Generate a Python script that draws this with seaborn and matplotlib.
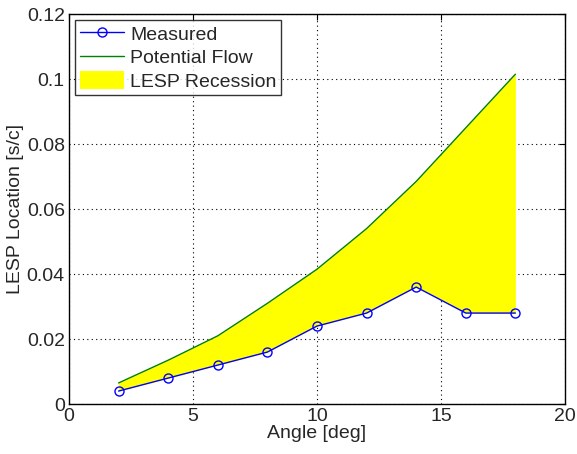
import matplotlib
matplotlib.use("Agg")
import matplotlib.pyplot as plt
import seaborn as sns
import pandas as pd

# data
angle = [2, 4, 6, 8, 10, 12, 14, 16, 18]
measured = [0.004, 0.008, 0.012, 0.016, 0.024, 0.028, 0.036, 0.028, 0.028]
potential = [0.0065, 0.0135, 0.021, 0.031, 0.0415, 0.054, 0.0685, 0.085, 0.1015]

df = pd.DataFrame({"angle": angle, "measured": measured, "potential": potential})

sns.set_style("white")
plt.rcParams['font.family'] = ['Liberation Sans', 'DejaVu Sans']
plt.rcParams['xtick.direction'] = 'in'
plt.rcParams['ytick.direction'] = 'in'

fig = plt.figure(figsize=(5.77, 4.54), dpi=100)
ax = fig.add_axes([0.1196, 0.110, 0.8596, 0.859])

# yellow band between measured and potential flow
ax.fill_between(df["angle"], df["measured"], df["potential"],
                color="#ffff00", linewidth=0, label="LESP Recession", zorder=1)

sns.lineplot(data=df, x="angle", y="measured", ax=ax, color="#0000ff",
             marker="o", markersize=6.5, markerfacecolor="none",
             markeredgecolor="#0000ff", markeredgewidth=1.0,
             linewidth=1.0, label="Measured", zorder=3)
sns.lineplot(data=df, x="angle", y="potential", ax=ax, color="#008000",
             linewidth=1.0, label="Potential Flow", zorder=2)

ax.set_xlim(0, 20)
ax.set_ylim(0, 0.12)
ax.set_xticks([0, 5, 10, 15, 20])
ax.set_yticks([0, 0.02, 0.04, 0.06, 0.08, 0.1, 0.12])
ax.set_yticklabels(["0", "0.02", "0.04", "0.06", "0.08", "0.1", "0.12"])
ax.tick_params(labelsize=14, length=4, width=0.8, color="black",
               top=True, right=True, pad=3)
ax.set_xlabel("Angle [deg]", fontsize=14, labelpad=0)
ax.set_ylabel("LESP Location [s/c]", fontsize=14, labelpad=2)

ax.grid(True, linestyle=(0, (1, 3)), color="black", linewidth=0.8)
ax.set_axisbelow(True)
for s in ax.spines.values():
    s.set_color("black")
    s.set_linewidth(1.0)

handles, labels = ax.get_legend_handles_labels()
order = [labels.index(l) for l in ["Measured", "Potential Flow", "LESP Recession"]]
leg = ax.legend([handles[i] for i in order], [labels[i] for i in order],
                loc="upper left", fontsize=14, frameon=True, fancybox=False,
                borderpad=0.25, labelspacing=0.2, handlelength=2.3,
                handleheight=1.0, handletextpad=0.3, borderaxespad=0.3)
leg.get_frame().set_edgecolor("black")
leg.get_frame().set_linewidth(1.0)

fig.savefig("out.png", dpi=100)
